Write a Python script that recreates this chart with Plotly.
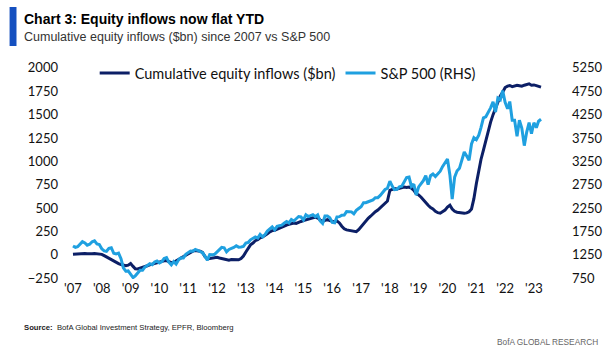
import plotly.graph_objects as go
import pandas as pd

# ---- data (monthly, Jan 2007 - Apr 2023) ----
start_month = "2007-01-01"

inflows = [
    # 2007
    5, 8, 6, 10, 12, 14, 10, 6, 10, 14, 12, 10,
    # 2008
    4, -10, -25, -40, -55, -70, -85, -95, -105, -112, -118, -112,
    # 2009
    -95, -125, -150, -152, -145, -135, -128, -118, -108, -100, -95, -88,
    # 2010
    -78, -70, -64, -62, -75, -85, -80, -65, -48, -32, -18, -8,
    # 2011
    8, 25, 38, 45, 42, 38, 25, -20, -45, -42, -38, -32,
    # 2012
    -28, -35, -40, -48, -55, -58, -52, -55, -50, -55, -42, -15,
    # 2013
    30, 75, 105, 125, 150, 160, 180, 190, 205, 225, 245, 258,
    # 2014
    262, 275, 288, 298, 305, 318, 325, 332, 340, 336, 350, 356,
    # 2015
    365, 374, 380, 388, 395, 400, 394, 372, 356, 368, 375, 365,
    # 2016
    360, 352, 362, 340, 305, 278, 266, 260, 255, 250, 246, 268,
    # 2017
    300, 332, 362, 390, 412, 440, 460, 478, 500, 528, 550, 575,
    # 2018
    690, 700, 708, 705, 714, 720, 725, 720, 724, 712, 688, 652,
    # 2019
    640, 615, 585, 555, 530, 505, 490, 465, 450, 445, 460, 478,
    # 2020
    510, 530, 490, 465, 455, 450, 445, 445, 448, 460, 490, 600,
    # 2021
    760, 900, 1020, 1120, 1230, 1330, 1420, 1500, 1570, 1640, 1700, 1740,
    # 2022
    1790, 1805, 1812, 1800, 1808, 1815, 1810, 1805, 1815, 1822, 1830, 1815,
    # 2023
    1818, 1810, 1805, 1795,
]

spx = [
    # 2007
    1438, 1407, 1421, 1482, 1531, 1503, 1455, 1474, 1527, 1549, 1481, 1468,
    # 2008
    1378, 1331, 1323, 1386, 1400, 1280, 1267, 1283, 1165, 969, 896, 903,
    # 2009
    826, 760, 798, 873, 919, 919, 987, 1021, 1057, 1036, 1096, 1115,
    # 2010
    1074, 1104, 1169, 1187, 1089, 1031, 1102, 1049, 1141, 1183, 1181, 1258,
    # 2011
    1286, 1327, 1326, 1364, 1345, 1321, 1292, 1219, 1131, 1253, 1247, 1258,
    # 2012
    1312, 1366, 1408, 1398, 1310, 1362, 1379, 1407, 1441, 1412, 1416, 1426,
    # 2013
    1498, 1515, 1569, 1598, 1631, 1606, 1686, 1633, 1682, 1757, 1806, 1848,
    # 2014
    1783, 1859, 1872, 1884, 1924, 1960, 1931, 2003, 1972, 2018, 2068, 2059,
    # 2015
    1995, 2105, 2068, 2086, 2107, 2063, 2104, 1972, 1920, 2079, 2080, 2044,
    # 2016
    1940, 1932, 2060, 2065, 2097, 2099, 2174, 2171, 2168, 2126, 2199, 2239,
    # 2017
    2279, 2364, 2363, 2384, 2412, 2423, 2470, 2472, 2519, 2575, 2648, 2674,
    # 2018
    2824, 2714, 2641, 2648, 2705, 2718, 2816, 2902, 2914, 2712, 2760, 2530,
    # 2019
    2704, 2784, 2834, 2946, 2752, 2942, 2980, 2926, 2977, 3038, 3141, 3231,
    # 2020
    3300, 2954, 2440, 2912, 3044, 3100, 3271, 3450, 3363, 3270, 3622, 3756,
    # 2021
    3714, 3811, 3973, 4181, 4204, 4298, 4395, 4523, 4308, 4605, 4567, 4766,
    # 2022
    4516, 4374, 4530, 4132, 4132, 3785, 4130, 3955, 3586, 3872, 4080, 3840,
    # 2023
    4077, 3970, 4109, 4150,
]

year_ticks = [f"{y}-01-01" for y in range(2007, 2024)]
year_labels = [f"'{str(y)[2:]}" for y in range(2007, 2024)]

left_ticks = [-250, 0, 250, 500, 750, 1000, 1250, 1500, 1750, 2000]
right_ticks = [750, 1250, 1750, 2250, 2750, 3250, 3750, 4250, 4750, 5250]

dates = pd.date_range(start_month, periods=len(inflows), freq="MS")

NAVY = "#0C1F66"
SKY = "#1FA0E0"
SANS = "'Liberation Sans', Arial, sans-serif"
TICK_FONT = dict(family="Lato, 'Open Sans', sans-serif", size=13, color="#111111")

# plot area geometry in pixels (used only to place the decorative text)
L, R, T, B = 65, 60, 67, 76
PW, PH = 615 - L - R, 355 - T - B


def px_x(x):
    return (x - L) / PW


def px_y(y):
    return (355 - B - y) / PH


fig = go.Figure()
fig.add_trace(go.Scatter(
    x=dates, y=inflows, mode="lines", name="Cumulative equity inflows ($bn)",
    line=dict(color=NAVY, width=3), yaxis="y",
))
fig.add_trace(go.Scatter(
    x=dates, y=spx, mode="lines", name="S&P 500 (RHS)",
    line=dict(color=SKY, width=3), yaxis="y2",
))

fig.update_layout(
    width=615, height=355,
    margin=dict(l=L, r=R, t=T, b=B),
    paper_bgcolor="white", plot_bgcolor="white",
    showlegend=True,
    legend=dict(
        orientation="h", x=px_x(95), y=px_y(73), xanchor="left", yanchor="middle",
        font=dict(family="Lato, 'Open Sans', sans-serif", size=14.5, color="#111111"),
        bgcolor="rgba(0,0,0,0)", itemwidth=30, tracegroupgap=0,
    ),
    xaxis=dict(
        type="date", range=["2006-09-22", "2023-07-24"],
        tickvals=year_ticks, ticktext=year_labels,
        showgrid=False, zeroline=False, showline=False, ticks="",
        tickfont=TICK_FONT,
    ),
    yaxis=dict(
        range=[-260, 2010], tickvals=left_ticks,
        showgrid=False, zeroline=False, showline=False, ticks="",
        tickfont=TICK_FONT, ticklabelstandoff=6,
    ),
    yaxis2=dict(
        range=[730, 5270], tickvals=right_ticks, overlaying="y", side="right",
        showgrid=False, zeroline=False, showline=False, ticks="",
        tickfont=TICK_FONT, ticklabelstandoff=21,
    ),
)

# title block
fig.add_shape(type="rect", xref="x domain", yref="y domain",
              x0=px_x(9), x1=px_x(16), y0=px_y(46), y1=px_y(7),
              fillcolor="#1550C0", line=dict(width=0), layer="above")

fig.add_annotation(
    text="<b>Chart 3: Equity inflows now flat YTD</b>",
    xref="x domain", yref="y domain",
    x=px_x(22), y=px_y(19), xanchor="left", yanchor="middle",
    showarrow=False,
    font=dict(family=SANS, size=14, color="#000000"),
)
fig.add_annotation(
    text="Cumulative equity inflows ($bn) since 2007 vs S&P 500",
    xref="x domain", yref="y domain",
    x=px_x(22), y=px_y(37), xanchor="left", yanchor="middle",
    showarrow=False,
    font=dict(family=SANS, size=12.5, color="#333333"),
)
fig.add_annotation(
    text="<b>Source:</b>  BofA Global Investment Strategy, EPFR, Bloomberg",
    xref="x domain", yref="y domain",
    x=px_x(22), y=px_y(327), xanchor="left", yanchor="middle",
    showarrow=False,
    font=dict(family=SANS, size=7.7, color="#222222"),
)
fig.add_annotation(
    text="BofA GLOBAL RESEARCH",
    xref="x domain", yref="y domain",
    x=px_x(606), y=px_y(342), xanchor="right", yanchor="middle",
    showarrow=False,
    font=dict(family=SANS, size=8.3, color="#666666"),
)

fig.write_html("out.html", config={"displayModeBar": False},
               post_script="document.body.style.margin='0';")
